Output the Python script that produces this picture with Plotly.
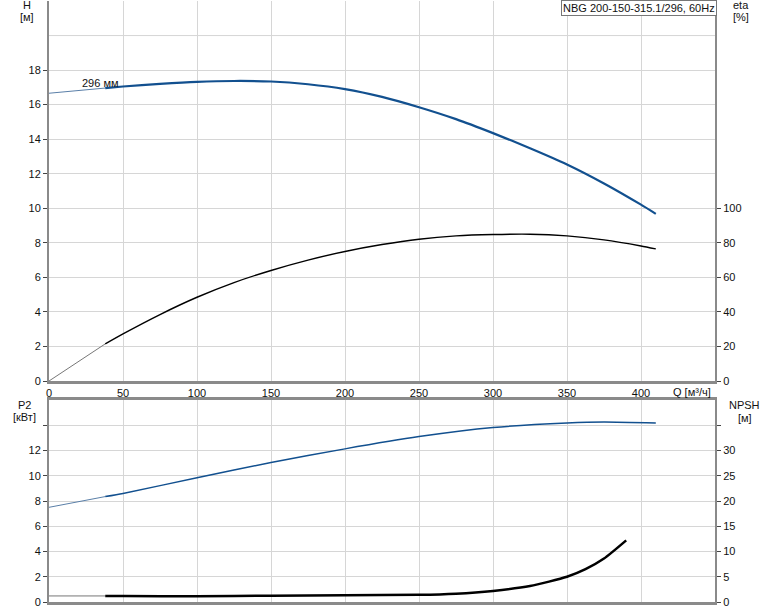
import plotly.graph_objects as go

# ---- data ----
q_h = [0, 38, 50, 75, 100, 125, 150, 175, 200, 225, 250, 275, 300, 325, 350, 375, 400, 410]
head = [16.66, 16.96, 17.05, 17.2, 17.32, 17.37, 17.34, 17.18, 16.9, 16.45, 15.85, 15.16, 14.35, 13.48, 12.54, 11.44, 10.21, 9.68]

q_eta = [0, 38, 50, 75, 100, 125, 150, 175, 200, 225, 250, 275, 300, 325, 350, 375, 400, 410]
eta = [0, 21.5, 27.3, 38.5, 48.5, 57, 64, 70, 75, 79, 82.1, 84, 84.8, 85, 84, 81.7, 78.2, 76.5]

q_p2 = [0, 38, 50, 100, 150, 200, 250, 300, 350, 375, 410]
p2 = [7.5, 8.35, 8.6, 9.84, 11.05, 12.13, 13.1, 13.82, 14.18, 14.26, 14.18]

q_npsh = [0, 38, 50, 100, 150, 200, 250, 275, 300, 325, 350, 362.5, 375, 390]
npsh = [1.2, 1.2, 1.18, 1.15, 1.25, 1.35, 1.42, 1.65, 2.2, 3.15, 5.0, 6.5, 8.6, 12.2]

x_ticks = [0, 50, 100, 150, 200, 250, 300, 350, 400]
h_ticks = [0, 2, 4, 6, 8, 10, 12, 14, 16, 18]
eta_ticks = [0, 20, 40, 60, 80, 100]
p2_ticks = [0, 2, 4, 6, 8, 10, 12, 14]
p2_labels = ["0", "2", "4", "6", "8", "10", "12", ""]
npsh_ticks = [0, 5, 10, 15, 20, 25, 30, 35]
npsh_labels = ["0", "5", "10", "15", "20", "25", "30", ""]

curve_label = "296 мм"
title_box = "NBG 200-150-315.1/296, 60Hz"

BLUE = "#12508f"
SPLIT = 1  # index of 38 m³/h: thin part before, thick after
FONT = "Liberation Sans, Arial, sans-serif"

fig = go.Figure()

def add(qs, vs, color, thin_color, w, xa, ya):
    fig.add_trace(go.Scatter(x=qs[:SPLIT + 1], y=vs[:SPLIT + 1], mode="lines",
                             line=dict(color=thin_color, width=1), xaxis=xa, yaxis=ya,
                             hoverinfo="skip", showlegend=False))
    fig.add_trace(go.Scatter(x=qs[SPLIT:], y=vs[SPLIT:], mode="lines",
                             line=dict(color=color, width=w, shape="spline", smoothing=0.6),
                             xaxis=xa, yaxis=ya, showlegend=False))

add(q_h, head, BLUE, "#5a7fa8", 2.2, "x", "y")
add(q_eta, eta, "#000000", "#777777", 1.4, "x", "y2")
add(q_p2, p2, BLUE, "#5a7fa8", 1.5, "x2", "y3")
add(q_npsh, npsh, "#000000", "#777777", 2.5, "x2", "y4")

GRID = "#d6d6d6"
AX = "#8a8a8a"
tickfont = dict(family=FONT, size=11, color="#111111")

top_dom = [0.3677, 1.0]
bot_dom = [0.0, 0.3361]

fig.update_layout(
    width=774, height=611,
    margin=dict(l=49, r=59, t=1, b=9),
    paper_bgcolor="white", plot_bgcolor="white",
    font=dict(family=FONT, size=11, color="#111111"),
    showlegend=False,
    xaxis=dict(domain=[0, 1], anchor="y", range=[0, 450], tickvals=x_ticks,
               showgrid=True, gridcolor=GRID, gridwidth=1, zeroline=False,
               showline=True, linecolor=AX, linewidth=3, ticks="", tickfont=tickfont),
    xaxis2=dict(domain=[0, 1], anchor="y3", range=[0, 450], tickvals=x_ticks,
                showticklabels=False, showgrid=True, gridcolor=GRID, gridwidth=1,
                zeroline=False, showline=True, linecolor=AX, linewidth=3, mirror=True, ticks=""),
    yaxis=dict(domain=top_dom, anchor="x", range=[0, 22], tickvals=h_ticks,
               showgrid=True, gridcolor=GRID, gridwidth=1, zeroline=False,
               showline=True, linecolor=AX, linewidth=2, ticks="outside", ticklen=4,
               tickcolor="#444444", tickfont=tickfont),
    yaxis2=dict(overlaying="y", side="right", anchor="x", range=[0, 220], tickvals=eta_ticks,
                showgrid=False, zeroline=False, showline=True, linecolor=AX, linewidth=2,
                ticks="outside", ticklen=4, tickcolor="#444444", tickfont=tickfont),
    yaxis3=dict(domain=bot_dom, anchor="x2", range=[0, 16], tickvals=p2_ticks, ticktext=p2_labels,
                showgrid=True, gridcolor=GRID, gridwidth=1, zeroline=False,
                showline=True, linecolor=AX, linewidth=2, ticks="outside", ticklen=4,
                tickcolor="#444444", tickfont=tickfont),
    yaxis4=dict(overlaying="y3", side="right", anchor="x2", range=[0, 40], tickvals=npsh_ticks,
                ticktext=npsh_labels, showgrid=False, zeroline=False, showline=True,
                linecolor=AX, linewidth=2, ticks="outside", ticklen=4, tickcolor="#444444",
                tickfont=tickfont),
)

# extra gridline at H = 20 (no label in reference)
fig.add_shape(type="line", xref="x domain", yref="y", x0=0, x1=1, y0=20, y1=20,
              line=dict(color=GRID, width=1), layer="below")

def lab(text, x, y, xanchor="center", yanchor="middle", **kw):
    fig.add_annotation(text=text, xref="paper", yref="paper", x=x, y=y, showarrow=False,
                       xanchor=xanchor, yanchor=yanchor,
                       font=dict(family=FONT, size=11, color="#111111"), **kw)

lab("H", -0.033, 0.993)
lab("[м]", -0.033, 0.973)
lab("eta", 1.039, 0.993)
lab("[%]", 1.039, 0.973)
lab("P2", -0.0375, 0.328)
lab("[кВт]", -0.0375, 0.308)
lab("NPSH", 1.045, 0.328)
lab("[м]", 1.045, 0.306)
lab("Q [м³/ч]", 0.997, 0.350, xanchor="right")
lab(title_box, 1.003, 1.001, xanchor="right", yanchor="top",
    bordercolor="#777777", borderwidth=1, borderpad=1, bgcolor="white")

fig.add_annotation(text=curve_label, xref="x", yref="y", x=q_h[SPLIT] - 3, y=head[SPLIT] + 0.3,
                   showarrow=False, xanchor="center", yanchor="middle",
                   font=dict(family=FONT, size=11, color="#111111"))

fig.write_html("out.html", config={"displayModeBar": False},
               post_script="document.body.style.margin='0px';")
